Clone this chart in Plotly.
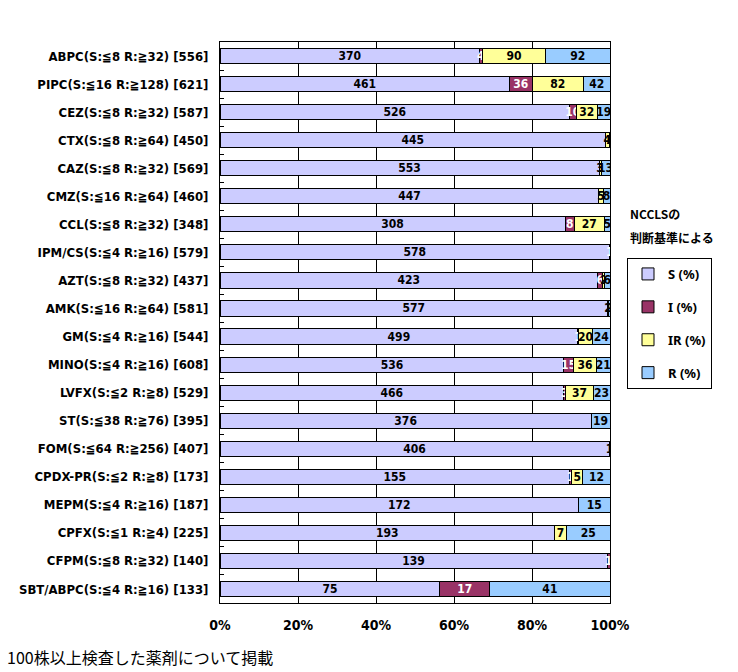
import plotly.graph_objects as go

categories = [
    "ABPC(S:≦8 R:≧32) [556]",
    "PIPC(S:≦16 R:≧128) [621]",
    "CEZ(S:≦8 R:≧32) [587]",
    "CTX(S:≦8 R:≧64) [450]",
    "CAZ(S:≦8 R:≧32) [569]",
    "CMZ(S:≦16 R:≧64) [460]",
    "CCL(S:≦8 R:≧32) [348]",
    "IPM/CS(S:≦4 R:≧16) [579]",
    "AZT(S:≦8 R:≧32) [437]",
    "AMK(S:≦16 R:≧64) [581]",
    "GM(S:≦4 R:≧16) [544]",
    "MINO(S:≦4 R:≧16) [608]",
    "LVFX(S:≦2 R:≧8) [529]",
    "ST(S:≦38 R:≧76) [395]",
    "FOM(S:≦64 R:≧256) [407]",
    "CPDX-PR(S:≦2 R:≧8) [173]",
    "MEPM(S:≦4 R:≧16) [187]",
    "CPFX(S:≦1 R:≧4) [225]",
    "CFPM(S:≦8 R:≧32) [140]",
    "SBT/ABPC(S:≦4 R:≧16) [133]",
]

s_vals = [370, 461, 526, 445, 553, 447, 308, 578, 423, 577, 499, 536, 466, 376, 406, 155, 172, 193, 139, 75]
i_vals = [4, 36, 10, 0, 0, 0, 8, 1, 6, 0, 1, 15, 3, 0, 0, 1, 0, 0, 1, 17]
ir_vals = [90, 82, 32, 4, 3, 5, 27, 0, 2, 2, 20, 36, 37, 0, 0, 5, 0, 7, 0, 0]
r_vals = [92, 42, 19, 1, 13, 8, 5, 0, 6, 2, 24, 21, 23, 19, 1, 12, 15, 25, 0, 41]

x_tick_vals = [0, 20, 40, 60, 80, 100]
x_tick_text = ["0%", "20%", "40%", "60%", "80%", "100%"]

series = [
    ("S (%)", s_vals, "#CCCCFF", "black"),
    ("I (%)", i_vals, "#993366", "white"),
    ("IR (%)", ir_vals, "#FFFF99", "black"),
    ("R (%)", r_vals, "#99CCFF", "black"),
]

label_font = "Liberation Sans Narrow, DejaVu Sans Condensed, Arial Narrow, sans-serif"

fig = go.Figure()
for name, vals, color, tcolor in series:
    x = [v if v > 0 else None for v in vals]
    txt = [str(v) if v > 0 else "" for v in vals]
    fig.add_trace(go.Bar(
        y=categories, x=x, name=name, orientation="h",
        marker=dict(color=color, line=dict(color="black", width=1)),
        text=txt, texttemplate="%{text}", textposition="inside",
        insidetextanchor="middle", textangle=0,
        textfont=dict(family=label_font, size=12, color=tcolor, weight="bold"),
        legendgroup=name,
        hoverinfo="skip",
    ))

fig.update_layout(
    width=738, height=672,
    barmode="stack", barnorm="percent", bargap=0.46,
    plot_bgcolor="white", paper_bgcolor="white",
    margin=dict(l=220, r=128, t=42, b=69),
    uniformtext=dict(mode="show", minsize=12),
    font=dict(family=label_font, color="black"),
    showlegend=True,
    legend=dict(
        x=1.0436, y=0.615, xanchor="left", yanchor="top",
        bordercolor="black", borderwidth=1, bgcolor="white",
        font=dict(family="Noto Sans, DejaVu Sans, sans-serif", size=13, weight="bold"),
        tracegroupgap=13, traceorder="grouped",
        itemwidth=30,
    ),
    annotations=[
        dict(text="<b>NCCLSの</b>", x=1.046, y=0.695, xref="paper", yref="paper",
             xanchor="left", yanchor="middle", showarrow=False, align="left",
             font=dict(family="Noto Sans CJK JP", size=12, color="black")),
        dict(text="<b>判断基準による</b>", x=1.046, y=0.652, xref="paper", yref="paper",
             xanchor="left", yanchor="middle", showarrow=False, align="left",
             font=dict(family="Noto Sans CJK JP", size=12, color="black")),
        dict(text="100株以上検査した薬剤について掲載", x=-0.551, y=-0.0963, xref="paper", yref="paper",
             xanchor="left", yanchor="middle", showarrow=False, align="left",
             font=dict(family="Noto Sans CJK JP", size=16, color="black")),
    ],
)

fig.update_xaxes(
    range=[0, 100], tickvals=x_tick_vals, ticktext=x_tick_text,
    showgrid=True, gridcolor="black", gridwidth=1,
    showline=True, linecolor="black", linewidth=1, mirror=True,
    ticks="", ticklabelstandoff=9,
    tickfont=dict(family=label_font, size=14, weight="bold"),
    zeroline=False, fixedrange=True,
)
fig.update_yaxes(
    autorange="reversed", categoryorder="array", categoryarray=categories,
    showline=True, linecolor="black", linewidth=1, mirror=True,
    ticks="inside", ticklen=4, tickcolor="black", tickson="boundaries",
    tickfont=dict(family=label_font, size=13, weight="bold"),
    ticklabelstandoff=8, showgrid=False, fixedrange=True,
)

fig.write_html(
    "out.html",
    config={"displayModeBar": False},
    post_script="document.body.style.margin='0';document.body.style.overflow='hidden';",
)
